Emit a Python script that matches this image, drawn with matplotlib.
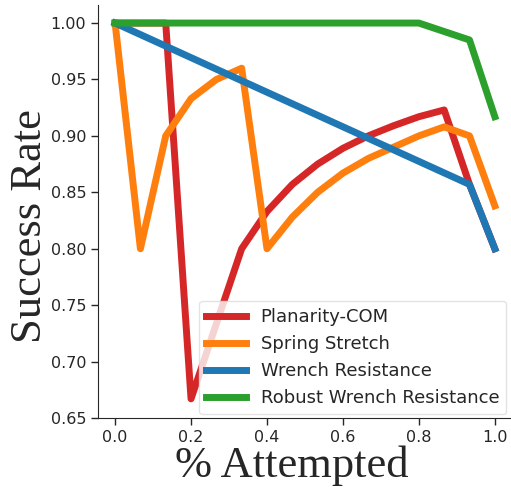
import matplotlib
matplotlib.use("Agg")
import matplotlib.pyplot as plt

# Data
red_x = [0.0, 1/15, 2/15, 3/15, 5/15, 6/15, 7/15, 8/15, 9/15, 10/15, 11/15, 12/15, 13/15, 14/15, 1.0]
red_y = [1.0, 1.0, 1.0, 0.667, 0.80, 0.833, 0.857, 0.875, 0.889, 0.90, 0.909, 0.917, 0.923, 0.857, 0.80]
orange_x = [0.0, 1/15, 2/15, 3/15, 4/15, 5/15, 6/15, 7/15, 8/15, 9/15, 10/15, 11/15, 12/15, 13/15, 14/15, 1.0]
orange_y = [1.0, 0.80, 0.90, 0.933, 0.95, 0.96, 0.80, 0.828, 0.85, 0.867, 0.88, 0.89, 0.90, 0.908, 0.90, 0.838]
blue_x = [0.0, 14/15, 1.0]
blue_y = [1.0, 0.857, 0.80]
green_x = [0.0, 12/15, 14/15, 1.0]
green_y = [1.0, 1.0, 0.985, 0.917]
labels = ["Planarity-COM", "Spring Stretch", "Wrench Resistance", "Robust Wrench Resistance"]
colors = ["#d62728", "#ff7f0e", "#1f77b4", "#2ca02c"]
xticks = [0.0, 0.2, 0.4, 0.6, 0.8, 1.0]
yticks = [0.65, 0.70, 0.75, 0.80, 0.85, 0.90, 0.95, 1.00]

W, H = 511, 487
fig = plt.figure(figsize=(W/100, H/100), dpi=100)
ax = fig.add_axes([98/W, 1 - 418/H, (510-98)/W, (418-5)/H])

series = [(red_x, red_y), (orange_x, orange_y), (blue_x, blue_y), (green_x, green_y)]
for (xs, ys), lab, c in zip(series, labels, colors):
    ax.plot(xs, ys, color=c, lw=5, label=lab, solid_capstyle='projecting')

ax.set_xlim(-0.045, 1.04)
ax.set_ylim(0.65, 1.016)
ax.set_xticks(xticks)
ax.set_yticks(yticks)
ax.set_xticklabels([f"{t:.1f}" for t in xticks])
ax.set_yticklabels([f"{t:.2f}" for t in yticks])
ax.tick_params(labelsize=11.5, colors="#262626", length=5, width=1)
for s in ["top", "right"]:
    ax.spines[s].set_visible(False)
for s in ["left", "bottom"]:
    ax.spines[s].set_color("#262626")

fig.text(291.5/W, 1 - 477/H, "% Attempted", fontsize=32, family="Liberation Serif",
         color="#262626", ha="center", va="baseline")
fig.text(41/W, 1 - 226/H, "Success Rate", fontsize=32, family="Liberation Serif",
         color="#262626", ha="center", va="baseline", rotation=90, rotation_mode="anchor")

leg = ax.legend(loc="lower right", fontsize=13, handlelength=2.2, borderaxespad=0.2,
                frameon=True, framealpha=0.8, edgecolor="#dddddd")
for t in leg.get_texts():
    t.set_color("#262626")

fig.savefig("out.png", dpi=100)
